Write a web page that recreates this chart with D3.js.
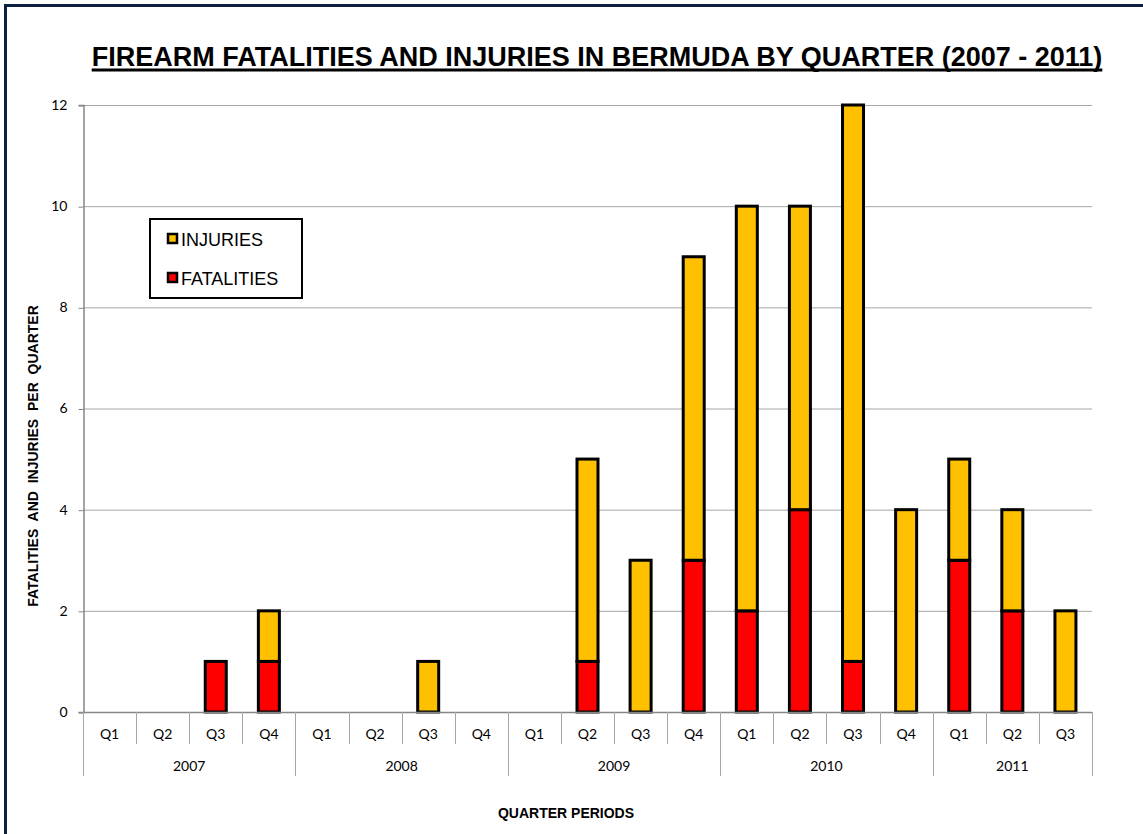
<!DOCTYPE html>
<html><head><meta charset="utf-8">
<script src="https://cdn.jsdelivr.net/npm/d3@7"></script>
<style>body{margin:0;background:#fff}svg{display:block}</style>
</head><body>
<script>
const years = ["2007","2008","2009","2010","2011"];
const quarters = ["Q1","Q2","Q3","Q4","Q1","Q2","Q3","Q4","Q1","Q2","Q3","Q4","Q1","Q2","Q3","Q4","Q1","Q2","Q3"];
const quarterYears = ["2007","2007","2007","2007","2008","2008","2008","2008","2009","2009","2009","2009","2010","2010","2010","2010","2011","2011","2011"];
const fatalities = [0,0,1,1, 0,0,0,0, 0,1,0,3, 2,4,1,0, 3,2,0];
const injuries   = [0,0,0,1, 0,0,1,0, 0,4,3,6, 8,6,11,4, 2,2,2];
const seriesNames = ["FATALITIES","INJURIES"];
const colors = {FATALITIES:"#ff0000", INJURIES:"#ffc000"};
const yTicks = [0,2,4,6,8,10,12];

const W=1143,H=834;
const svg=d3.select("body").append("svg").attr("width",W).attr("height",H);
svg.append("rect").attr("width",W).attr("height",H).attr("fill","#fff");
// frame
svg.append("path").attr("d",`M5.5,${H+5} L5.5,5.5 L${W+5},5.5`).attr("fill","none").attr("stroke","#0d1f40").attr("stroke-width",3);

const m={l:83,r:1092,t:105,b:712};
const idx=d3.range(quarters.length);
const x=d3.scaleBand().domain(idx).range([m.l,m.r]).paddingInner(0).paddingOuter(0);
const y=d3.scaleLinear().domain([0,12]).range([m.b,m.t]);
const tickFont="Lato, 'Open Sans', sans-serif";
const arial="'Liberation Sans', Arial, sans-serif";

// gridlines
svg.append("g").selectAll("line").data(yTicks.filter(d=>d>0)).join("line")
  .attr("x1",m.l).attr("x2",m.r).attr("y1",d=>y(d)+0.5).attr("y2",d=>y(d)+0.5)
  .attr("stroke","#a6a6a6").attr("stroke-width",1);

// y axis
const ya=svg.append("g").attr("transform",`translate(${m.l+0.5},0)`)
  .call(d3.axisLeft(y).tickValues(yTicks).tickSize(5).tickPadding(11).tickFormat(d3.format("d")));
ya.select(".domain").attr("stroke","#868686").attr("stroke-width",1.5);
ya.selectAll(".tick line").attr("stroke","#868686").attr("transform","translate(0,0.5)");
ya.selectAll(".tick text").attr("font-family",tickFont).attr("font-size",14).attr("fill","#000");

// stacked bars
const table=idx.map(i=>({i,FATALITIES:fatalities[i],INJURIES:injuries[i]}));
const stack=d3.stack().keys(seriesNames)(table);
const bw=21, inset=(x.bandwidth()-bw)/2;
svg.append("g").selectAll("g").data(stack).join("g").attr("fill",d=>colors[d.key])
  .selectAll("rect").data(d=>d.filter(p=>p[1]-p[0]>0)).join("rect")
  .attr("x",d=>x(d.data.i)+inset).attr("width",bw)
  .attr("y",d=>y(d[1])).attr("height",d=>y(d[0])-y(d[1]))
  .attr("stroke","#000").attr("stroke-width",3);

// x axis baseline
svg.append("line").attr("x1",m.l).attr("x2",m.r).attr("y1",m.b+0.5).attr("y2",m.b+0.5).attr("stroke","#868686").attr("stroke-width",1.5);
// category separators
const seps=d3.range(quarters.length+1);
svg.append("g").selectAll("line").data(seps).join("line")
  .attr("x1",i=>Math.round(i<quarters.length?x(i):m.r)+0.5).attr("x2",i=>Math.round(i<quarters.length?x(i):m.r)+0.5)
  .attr("y1",m.b).attr("y2",i=>(i===0||i===quarters.length||quarterYears[i]!==quarterYears[i-1])?776:744)
  .attr("stroke","#a6a6a6").attr("stroke-width",1);
svg.append("g").selectAll("text").data(idx).join("text")
  .attr("x",i=>x(i)+x.bandwidth()/2).attr("y",739).attr("text-anchor","middle")
  .attr("font-family",tickFont).attr("font-size",14).text(i=>quarters[i]);
svg.append("g").selectAll("text").data(years).join("text")
  .attr("x",yr=>{const ii=idx.filter(i=>quarterYears[i]===yr);return (x(ii[0])+x(ii[ii.length-1])+x.bandwidth())/2;})
  .attr("y",771).attr("text-anchor","middle")
  .attr("font-family",tickFont).attr("font-size",14).text(d=>d);

// title
const title=svg.append("text").attr("x",597).attr("y",66).attr("text-anchor","middle")
  .attr("font-family",arial).attr("font-weight","bold").attr("font-size",27)
  .text("FIREARM FATALITIES AND INJURIES IN BERMUDA BY QUARTER (2007 - 2011)");
const tl=title.node().getComputedTextLength();
svg.append("line").attr("x1",597-tl/2).attr("x2",597+tl/2).attr("y1",70).attr("y2",70)
  .attr("stroke","#000").attr("stroke-width",3);
// axis titles
svg.append("text").attr("transform","translate(38,456) rotate(-90)").attr("text-anchor","middle")
  .attr("font-family",arial).attr("font-weight","bold").attr("font-size",14)
  .style("white-space","pre").text("FATALITIES  AND  INJURIES  PER  QUARTER");
svg.append("text").attr("x",566).attr("y",818).attr("text-anchor","middle")
  .attr("font-family",arial).attr("font-weight","bold").attr("font-size",14)
  .text("QUARTER PERIODS");

// legend
const lg=svg.append("g");
lg.append("rect").attr("x",150).attr("y",219).attr("width",152).attr("height",79).attr("fill","#fff").attr("stroke","#000").attr("stroke-width",2);
const legendItems=["INJURIES","FATALITIES"];
lg.selectAll("g.it").data(legendItems).join("g").attr("class","it")
  .attr("transform",(d,i)=>`translate(167,${233+i*39})`)
  .each(function(d){
    const g=d3.select(this);
    g.append("rect").attr("x",1).attr("y",1).attr("width",9).attr("height",9).attr("fill",colors[d]).attr("stroke","#000").attr("stroke-width",2.5);
    g.append("text").attr("x",14).attr("y",12.5).attr("font-family",arial).attr("font-size",18).text(d);
  });
</script>
</body></html>
